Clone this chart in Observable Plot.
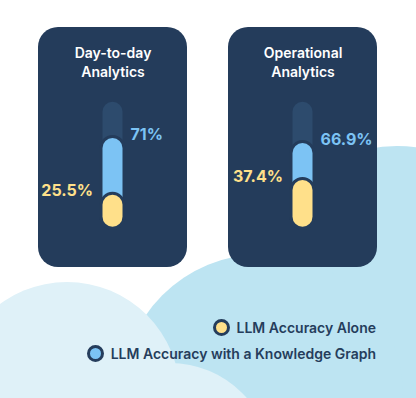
<!DOCTYPE html>
<html>
<head>
<meta charset="utf-8">
<script src="https://cdn.jsdelivr.net/npm/d3@7"></script>
<script src="https://cdn.jsdelivr.net/npm/@observablehq/plot@0.6"></script>
<style>
  html, body { margin: 0; padding: 0; background: #ffffff; }
  #wrap { position: relative; width: 416px; height: 398px; overflow: hidden; font-family: Inter, "Noto Sans", sans-serif; }
  #wrap svg { display: block; }
  #legend { position: absolute; right: 40px; top: 314px; display: flex; flex-direction: column; align-items: flex-end; }
  .item { display: flex; align-items: center; height: 26px; font-size: 14px; font-weight: 600; color: #253d5c; white-space: nowrap; }
  .sw { width: 11px; height: 11px; border-radius: 50%; border: 3px solid #253d5c; margin-right: 7px; box-sizing: content-box; }
</style>
</head>
<body>
<div id="wrap"></div>
<script>
// ---- data ----
const categories = ["Day-to-day Analytics", "Operational Analytics"];
const seriesNames = ["LLM Accuracy Alone", "LLM Accuracy with a Knowledge Graph"];
const aloneValues = [25.5, 37.4];
const kgValues = [71, 66.9];
const scaleMax = 100;

// ---- style ----
const cardColor = "#243c5b";
const trackColor = "#2d4b6d";
const seriesColors = ["#ffe08a", "#7cc3f4"];

const alone = categories.map((c, i) => ({cat: c, value: aloneValues[i]}));
const kg = categories.map((c, i) => ({cat: c, value: kgValues[i]}));
const track = categories.map(c => ({cat: c, value: scaleMax}));

const pill = {x: "cat", y: "value", insetLeft: 64.5, insetRight: 64.5, rx: 10};

const chart = Plot.plot({
  width: 416,
  height: 398,
  marginTop: 27,
  marginBottom: 131,
  marginLeft: 38,
  marginRight: 39,
  x: {type: "band", domain: categories, paddingInner: 0.216, paddingOuter: 0, axis: null},
  y: {domain: [-32.24, 159.76], axis: null},
  style: {fontFamily: "Inter, 'Noto Sans', sans-serif", background: "transparent", overflow: "visible"},
  marks: [
    Plot.cell(categories, {x: d => d, fill: cardColor, rx: 20, inset: 0}),
    Plot.text(categories, {
      x: d => d, frameAnchor: "top", text: d => d.replace(" ", "\n"),
      lineAnchor: "top", lineHeight: 1.36, dy: 17,
      fill: "#ffffff", fontSize: 14, fontWeight: 600
    }),
    Plot.barY(track, {...pill, fill: trackColor}),
    Plot.barY(kg, {...pill, fill: seriesColors[1], stroke: cardColor, strokeWidth: 6, paintOrder: "stroke"}),
    Plot.barY(alone, {...pill, fill: seriesColors[0], stroke: cardColor, strokeWidth: 6, paintOrder: "stroke"}),
    Plot.text(kg, {
      x: "cat", y: "value", text: d => `${d.value}%`, textAnchor: "start",
      dx: 17.5, dy: -4, fill: seriesColors[1], fontSize: 16, fontWeight: 700
    }),
    Plot.text(alone, {
      x: "cat", y: "value", text: d => `${d.value}%`, textAnchor: "end",
      dx: -20, dy: -4, fill: seriesColors[0], fontSize: 16, fontWeight: 700
    })
  ]
});

// decorative background clouds, behind everything
const bg = d3.select(chart).insert("g", ":first-child");
bg.append("circle").attr("cx", 397).attr("cy", 296).attr("r", 150).attr("fill", "#bde4f2");
bg.append("circle").attr("cx", 262).attr("cy", 395).attr("r", 141).attr("fill", "#bde4f2");
bg.append("circle").attr("cx", 67).attr("cy", 395).attr("r", 113).attr("fill", "#dff1f8");
bg.append("circle").attr("cx", 170).attr("cy", 465).attr("r", 102).attr("fill", "#dff1f8");

const wrap = document.getElementById("wrap");
wrap.appendChild(chart);

// legend
const legend = document.createElement("div");
legend.id = "legend";
seriesNames.forEach((name, i) => {
  const item = document.createElement("div");
  item.className = "item";
  const sw = document.createElement("span");
  sw.className = "sw";
  sw.style.background = seriesColors[i];
  const label = document.createElement("span");
  label.textContent = name;
  item.appendChild(sw);
  item.appendChild(label);
  legend.appendChild(item);
});
wrap.appendChild(legend);
</script>
</body>
</html>
